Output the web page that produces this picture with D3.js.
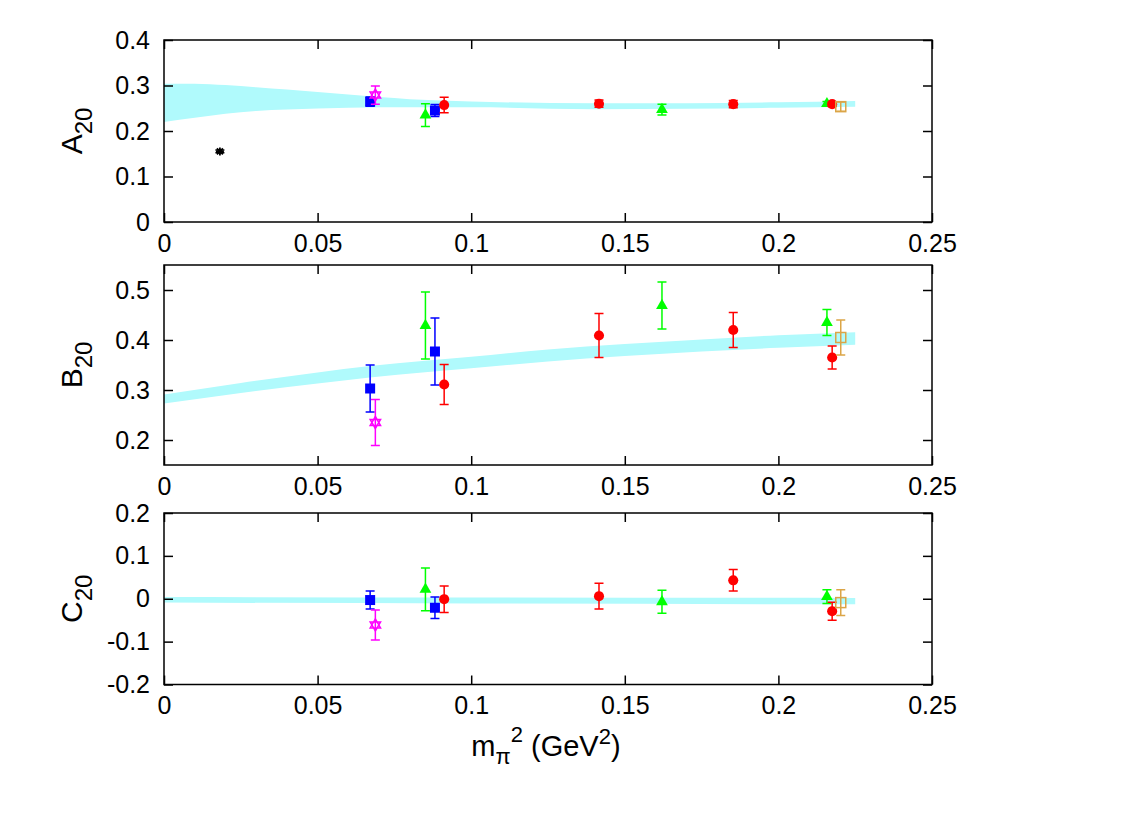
<!DOCTYPE html>
<html>
<head>
  <meta charset="utf-8">
  <script src="https://d3js.org/d3.v7.min.js"></script>
  <style>
    body { margin: 0; background: #fff; }
    text { font-family: "Liberation Sans", Arial, sans-serif; }
  </style>
</head>
<body>
<div id="vis"></div>
<script>
  // x = m_pi^2 (GeV^2)
  var xTicks = [0, 0.05, 0.1, 0.15, 0.2, 0.25];
  var xTickLabels = ["0", "0.05", "0.1", "0.15", "0.2", "0.25"];

  // red circles
  var redX = [0.0912, 0.1416, 0.1853, 0.2175];
  var redA = [0.257, 0.260, 0.259, 0.259];
  var redAErr = [0.017, 0.008, 0.008, 0.005];
  var redB = [0.311, 0.409, 0.420, 0.365];
  var redBErr = [0.040, 0.044, 0.035, 0.023];
  var redC = [-0.001, 0.006, 0.043, -0.029];
  var redCErr = [0.031, 0.030, 0.025, 0.021];

  // green triangles
  var greenX = [0.0851, 0.1621, 0.2158];
  var greenA = [0.235, 0.247, 0.260];
  var greenAErr = [0.025, 0.012, 0.005];
  var greenB = [0.429, 0.469, 0.435];
  var greenBErr = [0.067, 0.047, 0.026];
  var greenC = [0.022, -0.007, 0.005];
  var greenCErr = [0.050, 0.027, 0.016];

  // blue squares
  var blueX = [0.0671, 0.0882];
  var blueA = [0.2645, 0.245];
  var blueAErr = [0.010, 0.013];
  var blueB = [0.303, 0.377];
  var blueBErr = [0.047, 0.067];
  var blueC = [-0.003, -0.021];
  var blueCErr = [0.021, 0.025];

  // magenta stars
  var magX = [0.0688];
  var magA = [0.279];
  var magAErr = [0.020];
  var magB = [0.235];
  var magBErr = [0.046];
  var magC = [-0.061];
  var magCErr = [0.035];

  // orange open squares
  var orangeX = [0.2203];
  var orangeA = [0.2535];
  var orangeAErr = [0.010];
  var orangeB = [0.405];
  var orangeBErr = [0.035];
  var orangeC = [-0.009];
  var orangeCErr = [0.030];

  // black asterisk (A only)
  var blackX = [0.0182];
  var blackA = [0.155];
  var blackAErr = [0.003];

  // fit bands
  var bandAX = [0, 0.01, 0.02, 0.03, 0.04, 0.06, 0.08, 0.1, 0.14, 0.17, 0.2, 0.225];
  var bandAHi = [0.304, 0.304, 0.301, 0.296, 0.291, 0.280, 0.270, 0.265, 0.261, 0.261, 0.263, 0.266];
  var bandALo = [0.220, 0.229, 0.238, 0.244, 0.247, 0.251, 0.252, 0.252, 0.248, 0.249, 0.251, 0.2535];

  var bandBX = [0, 0.025, 0.05, 0.067, 0.085, 0.1, 0.125, 0.15, 0.175, 0.2, 0.225];
  var bandBHi = [0.291, 0.314, 0.335, 0.348, 0.3585, 0.3665, 0.381, 0.392, 0.401, 0.4095, 0.4155];
  var bandBLo = [0.273, 0.294, 0.313, 0.325, 0.3355, 0.3435, 0.357, 0.368, 0.377, 0.3845, 0.3905];

  var bandCX = [0, 0.1, 0.225];
  var bandCHi = [0.004, 0.003, 0.002];
  var bandCLo = [-0.009, -0.011, -0.013];

  var width = 1127, height = 830;
  var left = 164, right = 932;
  var fontStack = '"Liberation Sans", Arial, sans-serif';

  var svg = d3.select('#vis').append('svg')
    .attr('width', width)
    .attr('height', height);

  var x = d3.scaleLinear().domain([0, 0.25]).range([left, right]);

  var panels = [
    { name: 'A', domain: [0, 0.4], top: 40, bottom: 222,
      ticks: [0, 0.1, 0.2, 0.3, 0.4], labels: ["0", "0.1", "0.2", "0.3", "0.4"],
      bx: bandAX, blo: bandALo, bhi: bandAHi, key: 'A' },
    { name: 'B', domain: [0.15, 0.55], top: 265, bottom: 465,
      ticks: [0.2, 0.3, 0.4, 0.5], labels: ["0.2", "0.3", "0.4", "0.5"],
      bx: bandBX, blo: bandBLo, bhi: bandBHi, key: 'B' },
    { name: 'C', domain: [-0.2, 0.2], top: 513, bottom: 684.5,
      ticks: [-0.2, -0.1, 0, 0.1, 0.2], labels: ["-0.2", "-0.1", "0", "0.1", "0.2"],
      bx: bandCX, blo: bandCLo, bhi: bandCHi, key: 'C' }
  ];

  var series = [
    { color: '#0000ff', shape: 'square', x: blueX,
      A: blueA, AErr: blueAErr, B: blueB, BErr: blueBErr, C: blueC, CErr: blueCErr },
    { color: '#ff00ff', shape: 'hexagram', x: magX,
      A: magA, AErr: magAErr, B: magB, BErr: magBErr, C: magC, CErr: magCErr },
    { color: '#00ff00', shape: 'triangle', x: greenX,
      A: greenA, AErr: greenAErr, B: greenB, BErr: greenBErr, C: greenC, CErr: greenCErr },
    { color: '#ff0000', shape: 'circle', x: redX,
      A: redA, AErr: redAErr, B: redB, BErr: redBErr, C: redC, CErr: redCErr },
    { color: '#dba547', shape: 'opensquare', x: orangeX,
      A: orangeA, AErr: orangeAErr, B: orangeB, BErr: orangeBErr, C: orangeC, CErr: orangeCErr },
    { color: '#000000', shape: 'asterisk', x: blackX,
      A: blackA, AErr: blackAErr }
  ];

  function hexagram(r) {
    var p = [];
    for (var k = 0; k < 2; k++) {
      var pts = [];
      for (var i = 0; i < 3; i++) {
        var a = -Math.PI / 2 + k * Math.PI + i * 2 * Math.PI / 3;
        pts.push([r * Math.cos(a), r * Math.sin(a)]);
      }
      p.push('M' + pts.map(function (q) { return q[0].toFixed(2) + ',' + q[1].toFixed(2); }).join('L') + 'Z');
    }
    return p.join('');
  }

  function drawMarker(g, shape, color, cx, cy) {
    var m = g.append('g').attr('transform', 'translate(' + cx + ',' + cy + ')');
    if (shape === 'circle') {
      m.append('path').attr('d', d3.symbol(d3.symbolCircle, 80)()).attr('fill', color);
    } else if (shape === 'square') {
      m.append('path').attr('d', d3.symbol(d3.symbolSquare, 100)()).attr('fill', color);
    } else if (shape === 'triangle') {
      m.append('path').attr('d', d3.symbol(d3.symbolTriangle, 60)()).attr('fill', color);
    } else if (shape === 'opensquare') {
      m.append('rect').attr('x', -5).attr('y', -5).attr('width', 10).attr('height', 10)
        .attr('fill', 'none').attr('stroke', color).attr('stroke-width', 1.5);
    } else if (shape === 'hexagram') {
      m.append('path').attr('d', hexagram(6)).attr('fill', 'none')
        .attr('stroke', color).attr('stroke-width', 1.5);
    } else if (shape === 'asterisk') {
      m.append('path').attr('d', 'M-4,0L4,0M0,-4L0,4M-3,-3L3,3M-3,3L3,-3')
        .attr('stroke', color).attr('stroke-width', 1.8);
    }
  }

  panels.forEach(function (p) {
    var y = d3.scaleLinear().domain(p.domain).range([p.bottom, p.top]);
    var g = svg.append('g');

    // fit band
    var bandData = p.bx.map(function (v, i) { return { x: v, lo: p.blo[i], hi: p.bhi[i] }; });
    var area = d3.area()
      .x(function (d) { return x(d.x); })
      .y0(function (d) { return y(d.lo); })
      .y1(function (d) { return y(d.hi); })
      .curve(d3.curveMonotoneX);
    g.append('path').datum(bandData).attr('d', area).attr('fill', '#b0fafc');

    // points with error bars
    series.forEach(function (s) {
      if (!s[p.key]) return;
      s.x.forEach(function (xv, i) {
        var v = s[p.key][i], e = s[p.key + 'Err'][i];
        var px = x(xv), y0 = y(v - e), y1 = y(v + e);
        g.append('path')
          .attr('d', 'M' + px + ',' + y0 + 'L' + px + ',' + y1 +
            'M' + (px - 4.5) + ',' + y0 + 'L' + (px + 4.5) + ',' + y0 +
            'M' + (px - 4.5) + ',' + y1 + 'L' + (px + 4.5) + ',' + y1)
          .attr('stroke', s.color).attr('stroke-width', 1.5).attr('fill', 'none');
        drawMarker(g, s.shape, s.color, px, y(v));
      });
    });

    // axes, ticks inward and mirrored
    var ax = [
      d3.axisLeft(y).tickValues(p.ticks).tickFormat(function (d, i) { return p.labels[i]; })
        .tickSize(-9).tickPadding(14),
      d3.axisRight(y).tickValues(p.ticks).tickFormat('').tickSize(-9),
      d3.axisBottom(x).tickValues(xTicks).tickFormat(function (d, i) { return xTickLabels[i]; })
        .tickSize(-9).tickPadding(12),
      d3.axisTop(x).tickValues(xTicks).tickFormat('').tickSize(-9)
    ];
    var pos = ['translate(' + left + ',0)', 'translate(' + right + ',0)',
      'translate(0,' + p.bottom + ')', 'translate(0,' + p.top + ')'];
    ax.forEach(function (a, i) {
      var ag = g.append('g').attr('transform', pos[i]).call(a);
      ag.select('.domain').remove();
      ag.selectAll('line').attr('stroke', '#000').attr('stroke-width', 1.5);
      ag.selectAll('text').attr('font-size', 25).attr('fill', '#000')
        .style('font-family', fontStack);
    });

    g.append('rect')
      .attr('x', left).attr('y', p.top)
      .attr('width', right - left).attr('height', p.bottom - p.top)
      .attr('fill', 'none').attr('stroke', '#000').attr('stroke-width', 1.5);

    // y title with subscript
    var cy = (p.top + p.bottom) / 2;
    var t = svg.append('text')
      .attr('transform', 'translate(82,' + cy + ') rotate(-90)')
      .attr('text-anchor', 'middle')
      .attr('font-size', 30);
    t.append('tspan').text(p.name);
    t.append('tspan').attr('font-size', 24).attr('dy', 10).text('20');
  });

  // x title
  var xt = svg.append('text')
    .attr('x', 546).attr('y', 756)
    .attr('text-anchor', 'middle')
    .attr('font-size', 29);
  xt.append('tspan').text('m');
  xt.append('tspan').attr('font-size', 22).attr('dy', 8).text('π');
  xt.append('tspan').attr('font-size', 22).attr('dy', -22).text('2');
  xt.append('tspan').attr('dy', 14).text(' (GeV');
  xt.append('tspan').attr('font-size', 22).attr('dy', -12).text('2');
  xt.append('tspan').attr('dy', 12).text(')');
</script>
</body>
</html>
